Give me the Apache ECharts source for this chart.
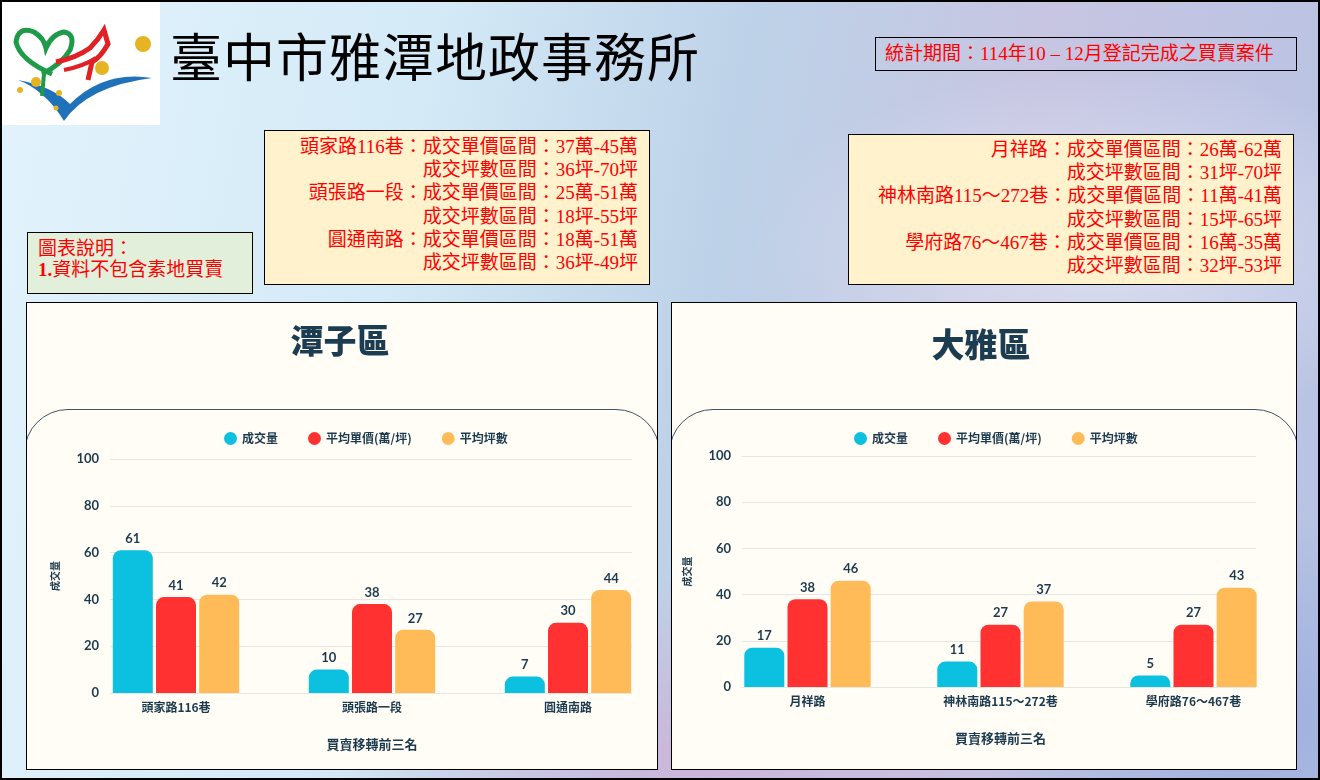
<!doctype html>
<html lang="zh-Hant">
<head>
<meta charset="UTF-8"/>
<title>臺中市雅潭地政事務所</title>
<script src="https://cdn.jsdelivr.net/npm/echarts@6/dist/echarts.min.js"></script>
<style>
html,body{margin:0;padding:0;}
body{width:1320px;height:780px;overflow:hidden;font-family:"Liberation Serif","Noto Sans CJK TC",serif;}
.slide{position:relative;width:1320px;height:780px;
  background:
    radial-gradient(ellipse 520px 260px at 700px 760px, rgba(205,178,215,0.9), rgba(205,178,215,0) 70%),
    radial-gradient(ellipse 400px 300px at 1250px 720px, rgba(150,170,220,0.8), rgba(150,170,220,0) 70%),
    radial-gradient(ellipse 500px 260px at 1100px 250px, rgba(225,230,245,0.8), rgba(225,230,245,0) 70%),
    linear-gradient(100deg,#e2f3fc 0%,#d4eaf7 30%,#bdd2e8 52%,#c7c5e2 72%,#b6c3e4 100%);}
.frame{position:absolute;left:0;top:0;width:1320px;height:780px;box-sizing:border-box;border:2px solid #000;pointer-events:none;z-index:5;}
.logo{position:absolute;left:0;top:0;width:160px;height:125px;background:#fff;}
.main_title{position:absolute;left:170px;top:20px;font-family:"Noto Sans CJK TC",sans-serif;font-size:52px;line-height:70px;color:#000;letter-spacing:1px;}
.period{position:absolute;left:875px;top:37px;width:422px;height:34px;box-sizing:border-box;border:1px solid #000;
  color:#f00;font-size:19px;line-height:31px;padding-left:9px;white-space:nowrap;}
.info{position:absolute;background:#fff2cc;border:1px solid #000;box-sizing:border-box;color:#f00;
  font-size:19px;line-height:23.2px;text-align:right;white-space:nowrap;}
.info div{height:23.2px;}
.info_l{left:264px;top:130px;width:386px;height:155px;padding:4px 11px 0 0;}
.info_r{left:848px;top:134px;width:446px;height:151px;padding:3px 11px 0 0;}
.note{position:absolute;left:27px;top:232px;width:226px;height:62px;box-sizing:border-box;border:1px solid #000;
  background:#e2efda;color:#f00;font-size:19px;line-height:21px;padding:5px 0 0 10px;}
.panel{position:absolute;top:302px;height:468px;box-sizing:border-box;border:1px solid #000;background:#fffdf6;overflow:hidden;}
.panel_l{left:26px;width:632px;}
.panel_r{left:671px;width:626px;}
.arc{position:absolute;left:-3px;right:-3px;top:106px;height:520px;border:1.5px solid #3b5568;border-radius:44px;}
#chart{position:absolute;left:0;top:0;width:1320px;height:780px;}
</style>
</head>
<body>
<div class="slide">

<!-- 標誌 -->
<div class="logo">
<svg width="160" height="125" viewBox="0 0 160 125">
  <path d="M18 80 Q45 90 64 121 Q88 86 152 78 Q104 70 70 104 Q52 86 18 80 Z" fill="#1f72ba"/>
  <path d="M52 74 Q20 60 16 42 Q18 26 34 32 Q44 38 46 48 Q52 34 64 32 Q76 34 70 50 Q62 64 42 74" fill="none" stroke="#1f9a48" stroke-width="5"/>
  <path d="M44 74 L42 96" stroke="#1f9a48" stroke-width="4"/>
  <path d="M56 62 Q76 58 90 48 Q98 40 104 30 L108 44 Q100 58 92 62 L88 80" fill="none" stroke="#e02025" stroke-width="5"/>
  <path d="M64 70 Q84 66 96 58" fill="none" stroke="#e02025" stroke-width="4"/>
  <circle cx="143" cy="44" r="8" fill="#e6b422"/>
  <circle cx="102" cy="68" r="7" fill="#e6b422"/>
  <circle cx="36" cy="82" r="5" fill="#e6b422"/>
  <circle cx="20" cy="90" r="3" fill="#e6b422"/>
  <circle cx="59" cy="93" r="3" fill="#e6b422"/>
  <circle cx="56" cy="108" r="2.5" fill="#e6b422"/>
</svg>
</div>

<div class="main_title">臺中市雅潭地政事務所</div>

<div class="period">統計期間：114年10 – 12月登記完成之買賣案件</div>

<div class="info info_l">
  <div>頭家路116巷：成交單價區間：37萬-45萬</div>
  <div>成交坪數區間：36坪-70坪</div>
  <div>頭張路一段：成交單價區間：25萬-51萬</div>
  <div>成交坪數區間：18坪-55坪</div>
  <div>圓通南路：成交單價區間：18萬-51萬</div>
  <div>成交坪數區間：36坪-49坪</div>
</div>

<div class="info info_r">
  <div>月祥路：成交單價區間：26萬-62萬</div>
  <div>成交坪數區間：31坪-70坪</div>
  <div>神林南路115～272巷：成交單價區間：11萬-41萬</div>
  <div>成交坪數區間：15坪-65坪</div>
  <div>學府路76～467巷：成交單價區間：16萬-35萬</div>
  <div>成交坪數區間：32坪-53坪</div>
</div>

<div class="note">圖表說明：<br/><b>1.</b>資料不包含素地買賣</div>

<div class="panel panel_l"><div class="arc"></div></div>
<div class="panel panel_r"><div class="arc"></div></div>

<div id="chart"></div>
<div class="frame"></div>
</div>

<script>
// 潭子區
var tanziRoads = ['頭家路116巷', '頭張路一段', '圓通南路'];
var tanziVolume = [61, 10, 7];
var tanziPrice = [41, 38, 30];
var tanziArea = [42, 27, 44];

// 大雅區
var dayaRoads = ['月祥路', '神林南路115～272巷', '學府路76～467巷'];
var dayaVolume = [17, 11, 5];
var dayaPrice = [38, 27, 27];
var dayaArea = [46, 37, 43];

var seriesNames = ['成交量', '平均單價(萬/坪)', '平均坪數'];
var yMin = 0, yMax = 100, yStep = 20;

var navy = '#1c3a4e';
var colors = ['#0cc0df', '#ff3131', '#ffbb58'];
var cjk = '"Noto Sans CJK TC", sans-serif';

var myChart = echarts.init(document.getElementById('chart'), null, {renderer: 'canvas'});

function frameAxis(gridIndex) {
    return {
        gridIndex: gridIndex, type: 'value', min: yMin, max: yMax, interval: yStep,
        name: '成交量', nameLocation: 'middle', nameRotate: 90, nameGap: 50,
        nameTextStyle: {color: navy, fontSize: 10, fontWeight: 'bold', fontFamily: cjk},
        axisLine: {show: false}, axisTick: {show: false},
        axisLabel: {color: navy, fontSize: 13, fontWeight: 'bold', margin: 11, fontFamily: 'Lato, sans-serif'},
        splitLine: {lineStyle: {color: '#e6e6e3', width: 1}}
    };
}
function barYAxis(gridIndex) {
    return {gridIndex: gridIndex, type: 'value', min: yMin, max: yMax, interval: yStep, show: false, splitLine: {show: false}};
}
function catAxis(gridIndex, roads) {
    return {
        gridIndex: gridIndex, type: 'category', data: roads,
        axisLine: {show: false}, axisTick: {show: false},
        axisLabel: {color: navy, fontSize: 12, fontWeight: 'bold', margin: 8, fontFamily: cjk},
        name: '買賣移轉前三名', nameLocation: 'middle', nameGap: 45,
        nameTextStyle: {color: navy, fontSize: 13, fontWeight: 'bold', fontFamily: cjk}
    };
}
function bars(name, data, idx, axisIdx) {
    return {
        name: name, type: 'bar', data: data, xAxisIndex: axisIdx, yAxisIndex: axisIdx,
        barWidth: 40, barGap: '8%',
        itemStyle: {color: colors[idx], borderRadius: [8, 8, 0, 0]},
        label: {show: true, position: 'top', distance: 5, color: navy, fontSize: 13, fontWeight: 'bold', fontFamily: 'Lato, sans-serif'}
    };
}

option = {
    animation: false,
    color: colors,
    title: [
        {text: '潭子區', left: 335, top: 319, textAlign: 'center',
         textStyle: {fontSize: 33, fontWeight: 900, color: '#1b3c51', fontFamily: cjk}},
        {text: '大雅區', left: 976, top: 323, textAlign: 'center',
         textStyle: {fontSize: 33, fontWeight: 900, color: '#1b3c51', fontFamily: cjk}}
    ],
    legend: [
        {data: seriesNames, left: 219, top: 427, icon: 'circle', itemWidth: 13, itemHeight: 13, itemGap: 30,
         textStyle: {color: navy, fontSize: 12, fontWeight: 'bold', fontFamily: cjk}},
        {data: seriesNames, left: 849, top: 427, icon: 'circle', itemWidth: 13, itemHeight: 13, itemGap: 30,
         textStyle: {color: navy, fontSize: 12, fontWeight: 'bold', fontFamily: cjk}}
    ],
    grid: [
        {left: 110, width: 522, top: 459, height: 234},
        {left: 78, width: 588, top: 459, height: 234},
        {left: 742, width: 514, top: 456, height: 231},
        {left: 711, width: 579, top: 456, height: 231}
    ],
    xAxis: [
        {gridIndex: 0, type: 'value', min: 0, max: 1, show: false},
        catAxis(1, tanziRoads),
        {gridIndex: 2, type: 'value', min: 0, max: 1, show: false},
        catAxis(3, dayaRoads)
    ],
    yAxis: [frameAxis(0), barYAxis(1), frameAxis(2), barYAxis(3)],
    series: [
        bars(seriesNames[0], tanziVolume, 0, 1),
        bars(seriesNames[1], tanziPrice, 1, 1),
        bars(seriesNames[2], tanziArea, 2, 1),
        bars(seriesNames[0], dayaVolume, 0, 3),
        bars(seriesNames[1], dayaPrice, 1, 3),
        bars(seriesNames[2], dayaArea, 2, 3)
    ]
};

myChart.setOption(option);
</script>
</body>
</html>
